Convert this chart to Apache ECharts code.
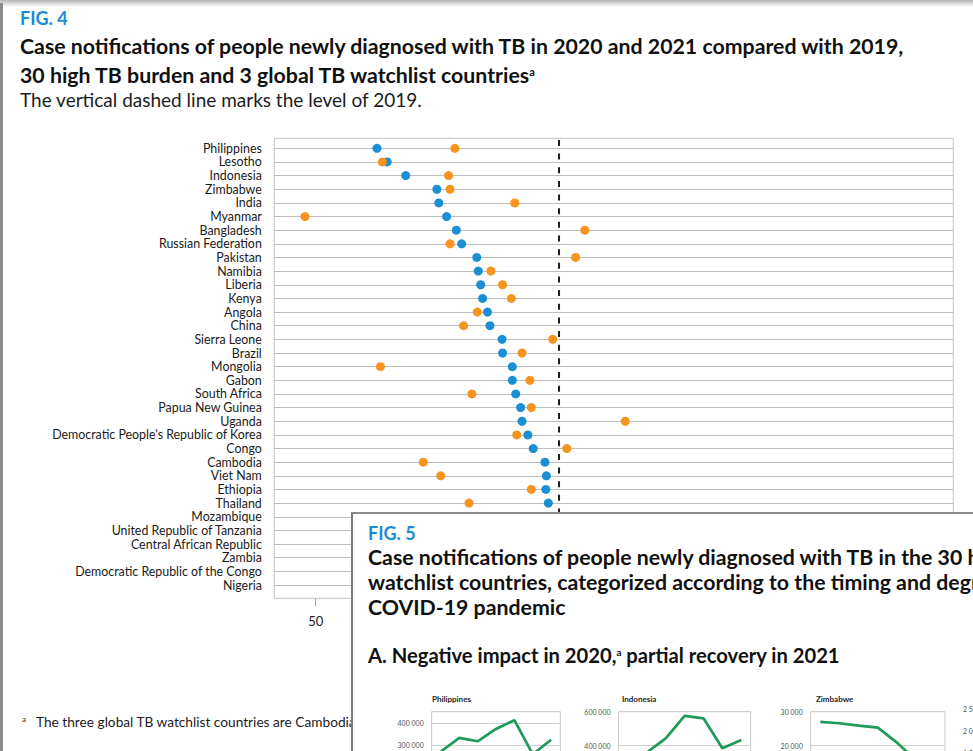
<!DOCTYPE html>
<html>
<head>
<meta charset="utf-8">
<script src="https://cdn.jsdelivr.net/npm/echarts@6/dist/echarts.min.js"></script>
<style>
  html, body { margin: 0; padding: 0; background: #fff; }
  body { width: 973px; height: 751px; overflow: hidden; position: relative; font-family: Lato, "Noto Sans", sans-serif; color: #1c1c1c; }
  .abs { position: absolute; white-space: nowrap; }
  #shade { left: 0; top: 0; width: 973px; height: 7px; background: linear-gradient(#b5b5b5, #ffffff); z-index: 3; }
  #frame { left: 0; top: 3px; width: 3px; height: 760px; background: #8a8a8a; z-index: 3; }
  #main { left: 0; top: 0; width: 973px; height: 751px; z-index: 0; }
  .fig { font-weight: 700; color: #1b8bd3; font-size: 18px; line-height: 22px; }
  .ttl { font-weight: 700; font-size: 21.3px; line-height: 25px; color: #111; }
  #fig4 { left: 20px; top: 7px; z-index: 1; }
  #title4 { left: 20px; top: 33.7px; z-index: 1; }
  #sub4 { left: 20px; top: 88.5px; font-size: 19px; line-height: 22px; z-index: 1; }
  #foot { left: 22px; top: 711px; width: 329px; overflow: hidden; font-size: 13.7px; line-height: 16px; z-index: 1; }
  #foot sup { font-size: 8px; vertical-align: 5px; margin-right: 10px; }
  #panel { left: 351px; top: 512px; width: 700px; height: 300px; background: #fff;
           border-left: 2px solid #7d7d7d; border-top: 2px solid #8c8c8c; z-index: 4; }
  #fig5 { left: 368px; top: 522px; z-index: 5; }
  #title5 { left: 368px; top: 544.7px; z-index: 5; }
  #headA { left: 368px; top: 640.7px; font-weight: 700; font-size: 20.2px; line-height: 23px; color: #111; z-index: 5; }
  #headA sup { font-size: 10px; vertical-align: 7px; }
  .mt { font-weight: 700; font-size: 8px; line-height: 10px; top: 694px; color: #222; z-index: 6; }
  #mini { left: 0; top: 0; width: 1200px; height: 900px; z-index: 5; }
</style>
</head>
<body>
<div id="shade" class="abs"></div>
<div id="frame" class="abs"></div>
<div id="main" class="abs"></div>
<div id="fig4" class="abs fig">FIG. 4</div>
<div id="title4" class="abs ttl">Case notifications of people newly diagnosed with TB in 2020 and 2021 compared with 2019,<br>30 high TB burden and 3 global TB watchlist countries<sup style="font-size:11px;vertical-align:7px">a</sup></div>
<div id="sub4" class="abs">The vertical dashed line marks the level of 2019.</div>
<div id="foot" class="abs"><sup>a</sup>The three global TB watchlist countries are Cambodia, Kenya and Zimbabwe.</div>

<div id="panel" class="abs"></div>
<div id="fig5" class="abs fig">FIG. 5</div>
<div id="title5" class="abs ttl">Case notifications of people newly diagnosed with TB in the 30 high TB burden and 3 global TB<br>watchlist countries, categorized according to the timing and degree of impact of the<br>COVID-19 pandemic</div>
<div id="headA" class="abs">A. Negative impact in 2020,<sup>a</sup> partial recovery in 2021</div>
<div class="abs mt" style="left:432px">Philippines</div>
<div class="abs mt" style="left:622px">Indonesia</div>
<div class="abs mt" style="left:816px">Zimbabwe</div>
<div class="abs mt" style="left:1003px">India</div>
<div id="mini" class="abs"></div>

<script>
// ---- Fig. 4: notifications in 2020 and 2021 as % of the 2019 level ----
const countries = [
  'Philippines', 'Lesotho', 'Indonesia', 'Zimbabwe', 'India', 'Myanmar', 'Bangladesh',
  'Russian Federation', 'Pakistan', 'Namibia', 'Liberia', 'Kenya', 'Angola', 'China',
  'Sierra Leone', 'Brazil', 'Mongolia', 'Gabon', 'South Africa', 'Papua New Guinea',
  'Uganda', "Democratic People's Republic of Korea", 'Congo', 'Cambodia', 'Viet Nam',
  'Ethiopia', 'Thailand', 'Mozambique', 'United Republic of Tanzania',
  'Central African Republic', 'Zambia', 'Democratic Republic of the Congo', 'Nigeria'
];
const pct2020 = [
  62.6, 64.7, 68.5, 74.9, 75.3, 76.9, 78.9, 80.0, 83.1, 83.4, 83.9, 84.3, 85.3, 85.8,
  88.3, 88.4, 90.4, 90.4, 91.1, 92.1, 92.4, 93.6, 94.7, 97.1, 97.4, 97.3, 97.8,
  99.0, 100.5, 102.0, 104.0, 108.0, 115.0
];
const pct2021 = [
  78.6, 63.7, 77.3, 77.6, 90.9, 47.8, 105.3, 77.6, 103.4, 86.0, 88.4, 90.2, 83.2, 80.4,
  98.7, 92.4, 63.3, 94.0, 82.1, 94.3, 113.6, 91.3, 101.6, 72.1, 75.7, 94.3, 81.5,
  104.0, 104.0, 125.0, 122.0, 116.0, 177.0
];
const level2019 = 100;
const xTicks = [50, 100, 150];
const xMin = 41.5, xMax = 181;

// ---- Fig. 5A: annual notifications, 2015–2021 ----
const years = ['2015', '2016', '2017', '2018', '2019', '2020', '2021'];
const notifPhilippines = [272000, 333000, 318000, 373000, 412000, 260000, 325000];
const notifIndonesia   = [330000, 360000, 443500, 575000, 561000, 385000, 433500];
const notifZimbabwe    = [27000, 26600, 25900, 25300, 20900, 15700, 17500];
const notifIndia       = [1740000, 1760000, 1830000, 2150000, 2400000, 1800000, 2100000];

const BLUE = '#1b8fd3', ORANGE = '#f7931e', GREEN = '#1f9a58';

const main = echarts.init(document.getElementById('main'), null, { renderer: 'svg' });
main.setOption({
  animation: false,
  grid: [
    { left: 274.3, top: 138.3, width: 679, height: 460, show: true, outerBoundsMode: 'none',
      borderColor: '#c4c4c4', borderWidth: 1, backgroundColor: 'transparent' },
    { left: 274.3, top: 148.3, width: 679, height: 436.7, outerBoundsMode: 'none' }
  ],
  xAxis: [
    { type: 'value', gridIndex: 0, min: xMin, max: xMax,
      axisLine: { show: false },
      axisTick: { show: true, length: 8, customValues: xTicks, lineStyle: { color: '#a8a8a8' } },
      axisLabel: { customValues: xTicks, margin: 16, fontFamily: 'Lato', fontSize: 13, color: '#222' },
      splitLine: { show: false } },
    { type: 'value', gridIndex: 1, min: xMin, max: xMax, show: false }
  ],
  yAxis: [
    { type: 'value', gridIndex: 0, min: 0, max: 1, show: false },
    { type: 'category', gridIndex: 1, data: countries, inverse: true, boundaryGap: false,
      axisLine: { show: false }, axisTick: { show: false },
      axisLabel: { margin: 12.5, fontFamily: 'Lato', fontSize: 12.4, color: '#1a1a1a', interval: 0 },
      splitLine: { show: true, interval: 0, lineStyle: { color: '#bdbdbd', width: 1 } } }
  ],
  series: [
    { name: '2019 level', type: 'line', xAxisIndex: 0, yAxisIndex: 0, silent: true,
      data: [[level2019, 1], [level2019, 0]], symbol: 'none', z: 1,
      lineStyle: { color: '#1a1a1a', width: 2, type: [6, 7.65], dashOffset: 11.95 } },
    { name: '2020', type: 'scatter', xAxisIndex: 1, yAxisIndex: 1, symbolSize: 9, z: 3,
      itemStyle: { color: BLUE, opacity: 1 },
      data: pct2020.map((v, i) => [v, i]) },
    { name: '2021', type: 'scatter', xAxisIndex: 1, yAxisIndex: 1, symbolSize: 9, z: 4,
      itemStyle: { color: ORANGE, opacity: 1 },
      data: pct2021.map((v, i) => [v, i]) }
  ]
});

// ---- small multiples of Fig. 5A ----
const spaced = v => String(v).replace(/\B(?=(\d{3})+(?!\d))/g, ' ');
const panels = [
  { data: notifPhilippines, max: 450000, step: 100000, left: 431.7, top: 711.7, width: 128.6, height: 100.8 },
  { data: notifIndonesia,   max: 600000, step: 200000, left: 618.5, top: 711.7, width: 132.2, height: 102 },
  { data: notifZimbabwe,    max: 30000,  step: 10000,  left: 810.7, top: 711.7, width: 134.3, height: 102 },
  { data: notifIndia,       max: 2500000, step: 500000, left: 1003, top: 709, width: 130, height: 110 }
];
const mini = echarts.init(document.getElementById('mini'), null, { renderer: 'svg' });
mini.setOption({
  animation: false,
  grid: panels.map(p => ({ left: p.left, top: p.top, width: p.width, height: p.height,
    outerBoundsMode: 'none',
    show: true, borderColor: '#c8c8c8', borderWidth: 1, backgroundColor: '#fff' })),
  xAxis: panels.map((p, i) => ({ type: 'category', gridIndex: i, data: years,
    axisLine: { show: false }, axisTick: { show: false }, axisLabel: { show: false } })),
  yAxis: panels.map((p, i) => ({ type: 'value', gridIndex: i, min: 0, max: p.max, interval: p.step,
    axisLine: { show: false }, axisTick: { show: false },
    axisLabel: { margin: 8, fontFamily: 'Lato', fontSize: 7, color: '#555', formatter: spaced,
                 showMaxLabel: p.max % p.step === 0 },
    splitLine: { lineStyle: { color: '#cfcfcf', width: 1 } } })),
  series: panels.map((p, i) => ({ type: 'line', xAxisIndex: i, yAxisIndex: i, data: p.data,
    symbol: 'none', lineStyle: { color: GREEN, width: 2.7 } }))
});
</script>
</body>
</html>
